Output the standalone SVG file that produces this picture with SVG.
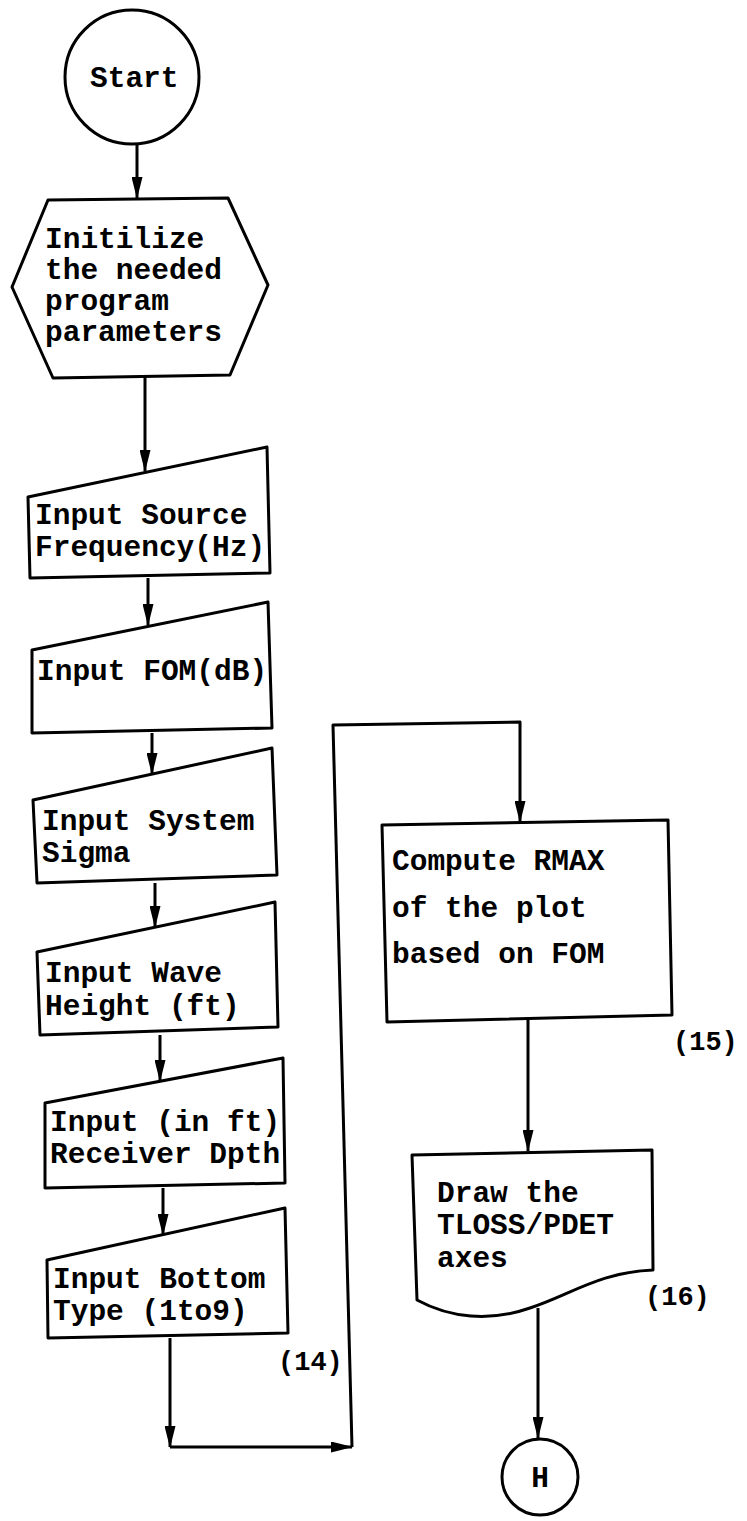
<svg xmlns="http://www.w3.org/2000/svg" width="747" height="1521" viewBox="0 0 747 1521">
<style>
.s{fill:#fff;stroke:#000;stroke-width:3;stroke-linejoin:round}
.t{font-family:"Liberation Mono","Courier New",monospace;font-size:29.5px;font-weight:bold;fill:#000}
.n{font-family:"Liberation Mono","Courier New",monospace;font-size:27px;font-weight:bold;fill:#000}
.c{fill:none;stroke:#000;stroke-width:3;stroke-linejoin:round}
</style>
<defs>
<marker id="a" markerUnits="userSpaceOnUse" markerWidth="22" markerHeight="11" refX="21" refY="5.5" orient="auto" viewBox="0 0 22 11">
<path d="M0,0 L22,5.5 L0,11 Z" fill="#000"/>
</marker>
</defs>
<g id="connectors">
<path class="c" d="M137,145 L137,198" marker-end="url(#a)"/>
<path class="c" d="M145,377 L145,471" marker-end="url(#a)"/>
<path class="c" d="M148,578 L148,625" marker-end="url(#a)"/>
<path class="c" d="M152,733 L152,774" marker-end="url(#a)"/>
<path class="c" d="M155,883 L155,927" marker-end="url(#a)"/>
<path class="c" d="M160,1035 L160,1081" marker-end="url(#a)"/>
<path class="c" d="M163,1188 L163,1235" marker-end="url(#a)"/>
<path class="c" d="M170,1338 L170,1447" marker-end="url(#a)"/>
<path class="c" d="M170,1447 L352,1447" marker-end="url(#a)"/>
<path class="c" d="M352,1447 L333,725 L520,722 L520,822" marker-end="url(#a)"/>
<path class="c" d="M528,1020 L528,1151" marker-end="url(#a)"/>
<path class="c" d="M538,1308 L538,1438" marker-end="url(#a)"/>
</g>
<g id="start">
<circle class="s" cx="132" cy="77" r="67"/>
<text class="t" x="90" y="87">Start</text>
</g>
<g id="init">
<polygon class="s" points="48,200 228,198 268,285 230,375 53,378 12,287"/>
<text class="t" x="45" y="248">Initilize</text>
<text class="t" x="45" y="279">the needed</text>
<text class="t" x="45" y="310">program</text>
<text class="t" x="45" y="341">parameters</text>
</g>
<g id="source">
<polygon class="s" points="28,497 267,447 270,573 30,578"/>
<text class="t" x="35" y="524">Input Source</text>
<text class="t" x="35" y="556">Frequency(Hz)</text>
</g>
<g id="fom">
<polygon class="s" points="32,650 268,602 272,728 32,733"/>
<text class="t" x="37" y="680">Input FOM(dB)</text>
</g>
<g id="sigma">
<polygon class="s" points="33,800 272,748 277,875 37,883"/>
<text class="t" x="42" y="830">Input System</text>
<text class="t" x="42" y="862">Sigma</text>
</g>
<g id="wave">
<polygon class="s" points="37,952 275,902 278,1027 40,1035"/>
<text class="t" x="45" y="982">Input Wave</text>
<text class="t" x="45" y="1015">Height (ft)</text>
</g>
<g id="receiver">
<polygon class="s" points="45,1103 283,1058 285,1183 45,1188"/>
<text class="t" x="50" y="1131">Input (in ft)</text>
<text class="t" x="50" y="1163">Receiver Dpth</text>
</g>
<g id="bottom">
<polygon class="s" points="47,1260 285,1208 288,1333 48,1338"/>
<text class="t" x="53" y="1288">Input Bottom</text>
<text class="t" x="53" y="1320">Type (1to9)</text>
<text class="n" x="278" y="1370">(14)</text>
</g>
<g id="compute">
<polygon class="s" points="382,825 668,820 672,1015 387,1022"/>
<text class="t" x="392" y="870">Compute RMAX</text>
<text class="t" x="392" y="917">of the plot</text>
<text class="t" x="392" y="963">based on FOM</text>
<text class="n" x="673" y="1050">(15)</text>
</g>
<g id="draw">
<path class="s" d="M412,1155 L652,1150 L653,1270 C600,1272 570,1295 530,1308 C490,1322 450,1318 417,1300 Z"/>
<text class="t" x="437" y="1202">Draw the</text>
<text class="t" x="437" y="1234">TLOSS/PDET</text>
<text class="t" x="437" y="1267">axes</text>
<text class="n" x="645" y="1305">(16)</text>
</g>
<g id="h">
<circle class="s" cx="540" cy="1477" r="38"/>
<text class="t" x="540" y="1487" text-anchor="middle">H</text>
</g>
</svg>
